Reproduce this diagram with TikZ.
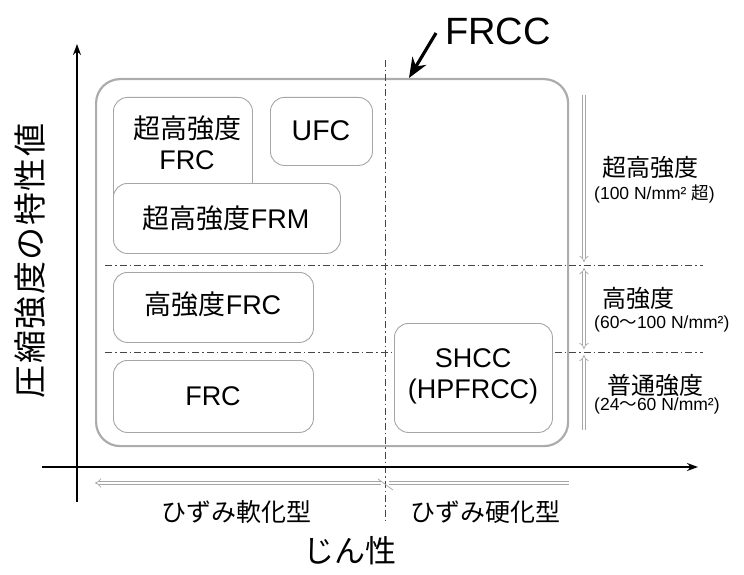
\documentclass[tikz,border=0pt]{standalone}
\usepackage{fontspec}
\setmainfont{Liberation Sans}
\newfontfamily\jp{Noto Sans CJK JP}
\usetikzlibrary{arrows.meta}
\begin{document}
\begin{tikzpicture}[x=1pt,y=-1pt,
  sub/.style={draw=gray!70, line width=0.9pt, rounded corners=14pt, fill=white, anchor=north west, inner sep=0pt},
  frccbox/.style={draw=gray!65, line width=2.2pt, rounded corners=24pt},
  dd/.style={draw=gray!55!black, line width=0.8pt, dash pattern=on 7pt off 3pt on 1.5pt off 3pt},
  axis/.style={line width=1.6pt, -{Stealth[length=11pt,width=8pt]}},
  bar/.style={draw=gray!70, double=white, double distance=2.6pt, line width=0.7pt},
  bt/.style={font=\fontsize{27}{31}\selectfont, inner sep=0pt, align=center},
  rt/.style={font=\fontsize{24}{26}\selectfont\jp, anchor=west, inner sep=0pt},
  rs/.style={font=\fontsize{17.5}{19}\selectfont, anchor=west, inner sep=0pt},
  lt/.style={font=\fontsize{25}{27}\selectfont\jp, inner sep=0pt},
]
\useasboundingbox (0,0) rectangle (744,575);

% FRCC outer box
\node[frccbox, minimum width=472pt, minimum height=367pt, anchor=north west, inner sep=0pt] (frccb) at (95,78) {};

% dash-dot lines
\coordinate (vt) at (385,60);
\coordinate (vb) at (385,520);
\draw[dd] (vt) -- (vb);
\coordinate (h1l) at (105,265);
\coordinate (h1r) at (703,265);
\coordinate (h2l) at (105,352);
\coordinate (h2r) at (703,352);
\draw[dd] (h1l) -- (h1r);
\draw[dd] (h2l) -- (h2r);

% sub boxes
\node[sub, minimum width=139pt, minimum height=120pt] (uhfrcbox) at (113,97) {};
\node[bt] (uhfrc) at (187,143) {{\jp 超高強度}\\FRC};
\node[sub, minimum width=102pt, minimum height=68pt] (ufcbox) at (270,97) {};
\node[bt, font=\fontsize{28.5}{31}\selectfont] (ufc) at (321,131) {UFC};
\node[sub, minimum width=227pt, minimum height=70pt] (frmbox) at (113,183) {};
\node[bt] (frm) at (226,218) {{\jp 超高強度}FRM};
\node[sub, minimum width=200pt, minimum height=70pt] (hfrcbox) at (113,272) {};
\node[bt] (hfrc) at (213,304) {{\jp 高強度}FRC};
\node[sub, minimum width=200pt, minimum height=72pt] (frcbox) at (113,360) {};
\node[bt] (frc) at (213,396) {FRC};
\node[sub, minimum width=158pt, minimum height=109pt] (shccbox) at (394,323) {};
\node[bt] (shcc) at (473,376) {SHCC\\(HPFRCC)};

% FRCC label and arrow
\node[font=\fontsize{38}{40}\selectfont, inner sep=0pt] (frcc) at (498,31) {FRCC};
\coordinate (fa) at (409,78);
\draw[line width=3.2pt, -{Stealth[length=20pt,width=16pt]}] ([xshift=-9pt,yshift=-2pt]frcc.west) -- (fa);

% axes
\coordinate (yb) at (77,502);
\coordinate (yt) at (77,44);
\coordinate (xl) at (42,467);
\coordinate (xr) at (698,467);
\draw[axis] (yb) -- (yt);
\draw[axis] (xl) -- (xr);

% right range bar
\coordinate (r0) at (584,95);
\coordinate (r1) at (584,262);
\coordinate (r2) at (584,268);
\coordinate (r3) at (584,349);
\coordinate (r4) at (584,355);
\coordinate (r5) at (584,430);
\draw[bar, -{Implies}] (r0) -- (r1);
\draw[bar, {Implies}-{Implies}] (r2) -- (r3);
\draw[bar, {Implies}-] (r4) -- (r5);

% right labels
\node[rt] (lab1) at (602,167) {超高強度};
\node[rs] (lab1s) at (594,194) {(100 N/mm² {\jp 超})};
\node[rt] (lab2) at (602,298) {高強度};
\node[rs] (lab2s) at (594,324) {(60{\jp 〜}100 N/mm²)};
\node[rt] (lab3) at (607,385) {普通強度};
\node[rs] (lab3s) at (594,406) {(24{\jp 〜}60 N/mm²)};

% bottom range bars
\coordinate (b0) at (95,483);
\coordinate (b1) at (381,483);
\coordinate (b2) at (389,483);
\coordinate (b3) at (569,483);
\coordinate (bs1) at (378,479);
\coordinate (bs2) at (393,490);
\draw[bar, {Implies}-] (b0) -- (b1);
\draw[bar] (b2) -- (b3);
\draw[gray!70, line width=0.7pt] (bs1) -- (bs2);

% bottom labels
\node[lt] (soft) at (236,512) {ひずみ軟化型};
\node[lt] (hard) at (485,512) {ひずみ硬化型};
\node[font=\fontsize{31}{33}\selectfont\jp, inner sep=0pt] (xlab) at (350,551) {じん性};

% y label
\node[font=\fontsize{33}{35}\selectfont\jp, inner sep=0pt, rotate=90] (ylab) at (30,261) {圧\kern1.5pt 縮\kern1.5pt 強\kern1.5pt 度\kern1.5pt の\kern1.5pt 特\kern1.5pt 性\kern1.5pt 値};
\end{tikzpicture}
\end{document}
